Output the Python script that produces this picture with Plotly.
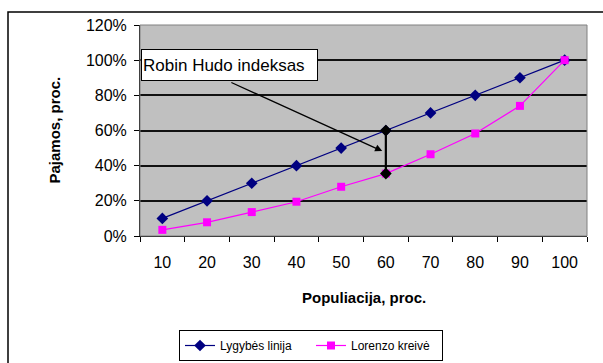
import plotly.graph_objects as go

# Population share (cumulative, %) and income share (cumulative, fraction)
population = ["10", "20", "30", "40", "50", "60", "70", "80", "90", "100"]
equality_line = [0.10, 0.20, 0.30, 0.40, 0.50, 0.60, 0.70, 0.80, 0.90, 1.00]
lorenz_curve = [0.035, 0.078, 0.136, 0.195, 0.28, 0.355, 0.465, 0.583, 0.74, 1.00]

# Robin Hood index: the widest gap between the two curves
gap_category = "60"
gap_values = [0.355, 0.60]

y_ticks = [0, 0.2, 0.4, 0.6, 0.8, 1.0, 1.2]

FONT = "Liberation Sans, Arial, sans-serif"

fig = go.Figure()

fig.add_trace(go.Scatter(
    x=population, y=equality_line, name="Lygybės linija",
    mode="lines+markers",
    line=dict(color="#000080", width=1.2),
    marker=dict(symbol="diamond", size=9, color="#000080"),
))
fig.add_trace(go.Scatter(
    x=population, y=lorenz_curve, name="Lorenzo kreivė",
    mode="lines+markers",
    line=dict(color="#FF00FF", width=1.2),
    marker=dict(symbol="square", size=8, color="#FF00FF"),
))
fig.add_trace(go.Scatter(
    x=[gap_category, gap_category], y=gap_values,
    mode="lines+markers", showlegend=False,
    line=dict(color="black", width=2.2),
    marker=dict(symbol="diamond", size=9, color="black"),
))

# Label box for the index with an arrow pointing at the gap
fig.add_annotation(
    x=-0.48, y=1.065, xref="x", yref="y",
    xanchor="left", yanchor="top",
    text="Robin Hudo indeksas", showarrow=False,
    font=dict(family=FONT, size=17, color="black"),
    bgcolor="white", bordercolor="black", borderwidth=1,
    width=173, height=28, align="left", borderpad=1,
)
fig.add_annotation(
    x=4.92, y=0.483, ax=1.51, ay=0.877,
    xref="x", yref="y", axref="x", ayref="y",
    text="", showarrow=True,
    arrowhead=2, arrowsize=1.1, arrowwidth=1.3, arrowcolor="black",
)

# Axis titles
fig.add_annotation(
    x=(54 - 140) / 447, y=0.5, xref="paper", yref="paper",
    xanchor="center", yanchor="middle",
    text="<b>Pajamos, proc.</b>", textangle=-90, showarrow=False,
    font=dict(family=FONT, size=15, color="black"),
)
fig.add_annotation(
    x=0.5, y=(236 - 297) / 211, xref="paper", yref="paper",
    xanchor="center", yanchor="middle",
    text="<b>Populiacija, proc.</b>", showarrow=False,
    font=dict(family=FONT, size=15, color="black"),
)

# Plot area border and outer chart frame
fig.add_shape(type="rect", xref="paper", yref="paper", x0=0, y0=0, x1=1, y1=1,
              line=dict(color="#808080", width=1), layer="above")
fig.add_shape(type="rect", xref="paper", yref="paper",
              x0=(8 - 140) / 447, y0=-2, x1=2, y1=1 + (25 - 12) / 211,
              line=dict(color="black", width=1.5), layer="below")

fig.update_layout(
    width=603, height=363,
    margin=dict(l=140, r=16, t=25, b=127, autoexpand=False),
    paper_bgcolor="white", plot_bgcolor="#C0C0C0",
    font=dict(family=FONT, color="black"),
    showlegend=True,
    legend=dict(
        orientation="h", x=(311 - 140) / 447, xanchor="center",
        y=(236 - 345.5) / 211, yanchor="middle",
        bgcolor="white", bordercolor="black", borderwidth=1,
        font=dict(family=FONT, size=12, color="black"),
        itemwidth=30, tracegroupgap=0, entrywidth=86,
    ),
)

fig.update_xaxes(
    type="category", range=[-0.5, 9.5], tickson="boundaries",
    ticks="outside", ticklen=5, tickcolor="black",
    showline=True, linecolor="black", linewidth=1,
    showgrid=False, tickfont=dict(size=16, family=FONT), fixedrange=True,
    ticklabelstandoff=12,
)
fig.update_yaxes(
    range=[0, 1.2], tickvals=y_ticks, tickformat=".0%",
    ticks="outside", ticklen=5, tickcolor="black",
    showline=True, linecolor="black", linewidth=1,
    showgrid=True, gridcolor="#111111", gridwidth=1.5,
    zeroline=False, tickfont=dict(size=16, family=FONT), fixedrange=True,
    ticklabelstandoff=4,
)

fig.write_html("out.html")
